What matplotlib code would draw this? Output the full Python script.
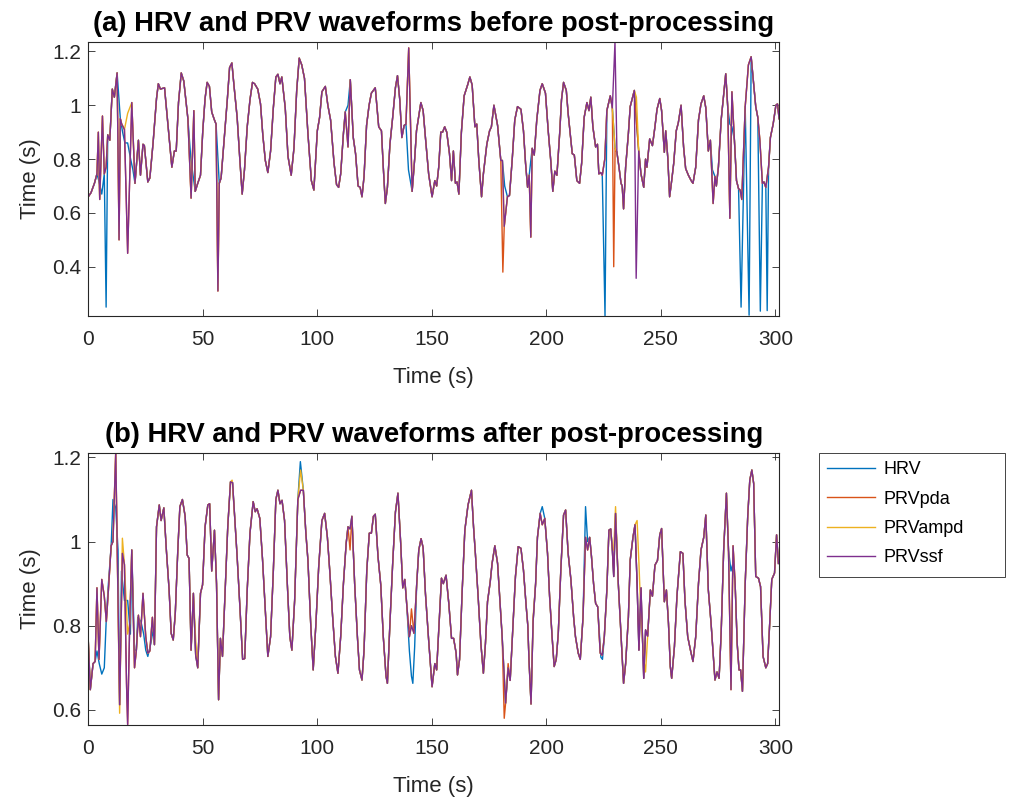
import matplotlib
matplotlib.use("Agg")
import matplotlib.pyplot as plt
import matplotlib.patches as patches
from matplotlib.ticker import FuncFormatter

plt.rcParams['font.family'] = ['Liberation Sans', 'DejaVu Sans']

# MATLAB default line colours
colors = ['#0072BD', '#D95319', '#EDB120', '#7E2F8E']
names = ['HRV', 'PRVpda', 'PRVampd', 'PRVssf']

# ---- (a) before post-processing: shared waveform ----
t_a = [0.0, 1.2, 2.7, 3.8, 4.6, 5.9, 7.0, 7.8, 8.5, 9.4, 10.5, 11.4, 12.6, 14.0, 15.0, 16.0, 17.2, 18.5, 19.5, 20.4,
       21.9, 22.8, 23.9, 24.5, 26.0, 26.9, 28.3, 29.8, 30.6, 31.5, 33.3, 35.0, 36.5, 37.6, 38.4, 39.4, 40.6, 41.7, 43.5, 44.8,
       46.7, 47.8, 49.0, 50.0, 51.0, 51.9, 52.9, 53.9, 55.1, 55.8, 57.2, 58.0, 59.2, 60.7, 61.7, 62.7, 63.6, 65.0, 66.2, 67.2,
       68.2, 69.4, 70.6, 71.7, 72.6, 74.0, 75.2, 76.2, 77.3, 78.4, 79.6, 80.8, 81.9, 82.8, 83.7, 84.5, 86.0, 87.2, 88.6, 89.8,
       91.0, 92.1, 93.2, 94.4, 95.9, 97.4, 98.5, 100.0, 101.0, 102.0, 103.5, 104.6, 105.8, 107.3, 108.4, 109.3, 110.2, 111.4, 112.2, 113.4,
       114.4, 115.7, 116.7, 117.8, 118.7, 119.5, 120.4, 121.5, 122.6, 123.6, 125.3, 126.8, 128.0, 128.8, 129.7, 130.6, 131.7, 132.9, 134.1, 135.0,
       136.0, 136.9, 137.9, 138.7, 139.8, 141.4, 142.5, 143.3, 145.2, 146.2, 147.2, 148.6, 150.1, 151.3, 152.1, 153.0, 153.9, 154.7, 155.6, 156.5,
       157.7, 158.6, 159.4, 160.3, 161.0, 161.8, 162.9, 164.1, 165.6, 166.6, 167.6, 168.8, 169.6, 170.5, 171.7, 172.5, 174.0, 175.2, 176.0, 177.1,
       178.7, 180.1, 180.8, 181.8, 183.0, 183.9, 185.1, 186.2, 187.4, 188.9, 190.0, 190.9, 191.8, 192.5, 193.8, 194.7, 195.8, 197.2, 198.2, 199.6,
       200.8, 202.0, 202.8, 203.7, 204.6, 205.8, 206.6, 207.5, 208.7, 209.5, 210.4, 211.3, 212.2, 213.3, 214.5, 215.4, 216.5, 217.7, 218.6, 219.4,
       220.3, 221.5, 222.3, 222.9, 223.7, 224.4, 225.5, 226.4, 227.9, 228.8, 230.0, 230.8, 231.7, 232.6, 233.1, 233.7, 234.6, 235.8, 236.6, 237.5,
       238.4, 239.2, 240.3, 241.3, 242.5, 243.3, 243.9, 245.1, 246.3, 247.4, 248.3, 249.5, 250.3, 251.5, 252.1, 253.0, 253.8, 254.7, 255.6, 256.7,
       257.6, 258.8, 259.9, 260.8, 262.0, 263.2, 264.0, 265.2, 266.4, 267.5, 268.7, 269.6, 270.7, 271.6, 272.5, 273.6, 274.2, 275.1, 276.3, 277.4,
       278.3, 279.2, 280.1, 281.0, 282.1, 283.0, 283.9, 284.6, 285.3, 286.8, 288.2, 289.4, 290.5, 291.4, 292.3, 293.2, 294.3, 295.0, 295.8, 297.0,
       297.8, 299.0, 300.2, 300.9, 301.6]
v_a = [0.66, 0.675, 0.71, 0.745, 0.72, 0.67, 0.745, 0.77, 0.89, 0.87, 1.06, 1.03, 1.12, 0.95, 0.90, 0.86, 0.86, 0.80, 0.76, 0.71,
       0.87, 0.74, 0.855, 0.85, 0.715, 0.73, 0.86, 1.025, 1.08, 1.06, 1.065, 0.91, 0.77, 0.83, 0.83, 1.01, 1.12, 1.09, 0.95, 0.80,
       0.68, 0.71, 0.74, 0.905, 1.025, 1.085, 1.07, 0.975, 0.945, 0.93, 0.71, 0.73, 0.86, 1.02, 1.14, 1.157, 1.075, 0.955, 0.795, 0.67,
       0.76, 0.92, 1.02, 1.085, 1.08, 1.06, 1.005, 0.89, 0.795, 0.75, 0.83, 0.99, 1.105, 1.115, 1.08, 1.105, 0.99, 0.81, 0.74, 0.84,
       1.055, 1.175, 1.15, 1.10, 0.895, 0.72, 0.685, 0.905, 0.955, 1.05, 1.07, 1.0, 0.945, 0.785, 0.705, 0.695, 0.745, 0.895, 0.975, 1.0,
       1.095, 0.88, 0.82, 0.70, 0.695, 0.66, 0.735, 0.925, 1.0, 1.045, 1.065, 0.92, 0.905, 0.77, 0.635, 0.695, 0.855, 0.955, 1.065, 1.11,
       1.02, 0.88, 0.925, 0.93, 0.76, 0.68, 0.80, 0.905, 1.01, 0.98, 0.88, 0.745, 0.66, 0.72, 0.70, 0.77, 0.90, 0.90, 0.92, 0.90,
       0.82, 0.72, 0.83, 0.71, 0.715, 0.67, 0.90, 1.035, 1.075, 1.105, 1.075, 0.92, 0.93, 0.795, 0.66, 0.745, 0.855, 0.905, 0.92, 1.0,
       0.925, 0.795, 0.795, 0.70, 0.66, 0.665, 0.80, 0.945, 0.995, 0.985, 0.905, 0.785, 0.695, 0.74, 0.84, 0.815, 0.945, 1.055, 1.08, 1.045,
       0.905, 0.785, 0.68, 0.755, 0.74, 0.895, 1.02, 1.085, 1.055, 0.97, 0.895, 0.82, 0.815, 0.72, 0.71, 0.785, 0.955, 1.01, 0.98, 1.03,
       0.92, 0.845, 0.855, 0.745, 0.75, 0.74, 0.80, 0.98, 1.035, 0.99, 0.84, 0.825, 0.77, 0.71, 0.70, 0.615, 0.77, 0.895, 0.995, 1.025,
       1.055, 0.95, 0.83, 0.745, 0.695, 0.80, 0.77, 0.875, 0.85, 0.92, 0.985, 1.025, 0.98, 0.825, 0.905, 0.805, 0.66, 0.72, 0.785, 0.905,
       0.935, 1.0, 0.845, 0.765, 0.74, 0.72, 0.71, 0.77, 0.945, 1.005, 1.035, 0.99, 0.83, 0.87, 0.76, 0.735, 0.70, 0.77, 0.945, 1.04,
       1.117, 0.99, 0.93, 0.92, 0.87, 0.72, 0.69, 0.685, 0.65, 0.995, 1.15, 1.18, 1.08, 0.995, 0.955, 0.87, 0.71, 0.715, 0.695, 0.77,
       0.88, 0.93, 1.0, 1.005, 0.95]

# artefacts in (a): (time, value) points that differ from the shared waveform
prv_common_a = [(4.4, 0.90), (5.0, 0.65), (6.2, 0.96), (13.45, 0.50), (14.6, 0.93), (15.8, 0.91), (17.2, 0.45),
                (19.0, 1.01), (44.9, 0.655), (46.1, 0.98), (56.6, 0.31), (113.4, 0.845), (139.9, 1.213),
                (181.6, 0.55), (193.2, 0.51), (272.8, 0.635), (280.1, 0.58), (281.0, 1.05)]
hrv_a = [(7.8, 0.25), (225.6, 0.217), (285.0, 0.25), (288.5, 0.22), (293.4, 0.235), (296.4, 0.237)]
pda_a = [(181.0, 0.38), (229.4, 0.40)]
ampd_a = [(17.2, 0.97), (239.3, 1.03)]
ssf_a = [(229.95, 1.235), (239.2, 0.357)]

# ---- (b) after post-processing ----
t_b = [0.0, 0.9, 2.1, 3.0, 3.8, 4.7, 5.9, 7.0, 7.9, 8.8, 10.0, 10.8, 12.0, 13.7, 14.9, 15.8, 16.7, 17.2, 18.1, 19.0,
       20.2, 21.0, 21.9, 22.8, 23.9, 25.1, 26.0, 26.9, 28.0, 28.9, 29.8, 31.0, 31.8, 33.0, 34.1, 35.3, 36.2, 37.1, 38.0, 39.1,
       40.0, 41.1, 42.3, 43.2, 44.0, 44.9, 45.9, 46.9, 47.8, 49.0, 49.9, 51.0, 52.2, 53.0, 53.9, 55.1, 56.0, 56.9, 57.7, 58.6,
       59.8, 60.9, 62.1, 63.0, 63.9, 65.0, 66.2, 67.4, 68.3, 69.4, 70.6, 72.0, 72.9, 73.7, 74.9, 76.1, 77.3, 78.4, 79.6, 80.8,
       81.9, 82.8, 83.7, 84.6, 85.7, 86.9, 88.0, 88.9, 90.1, 91.5, 92.7, 93.9, 95.0, 95.9, 97.1, 98.2, 99.4, 100.6, 102.0, 103.2,
       104.4, 105.5, 106.7, 107.9, 109.0, 110.2, 111.4, 112.6, 113.4, 114.3, 115.1, 116.3, 117.5, 118.4, 119.5, 120.4, 121.6, 122.7, 123.6, 124.5,
       125.3, 126.5, 127.7, 128.8, 130.0, 130.6, 131.7, 132.9, 134.1, 135.2, 136.4, 137.3, 138.2, 139.0, 140.2, 141.1, 142.2, 143.4, 144.3, 145.3,
       146.2, 147.2, 148.6, 150.1, 151.3, 152.1, 153.3, 154.2, 155.0, 156.2, 157.4, 158.6, 159.5, 160.6, 161.2, 162.1, 163.2, 164.4, 165.8, 167.3,
       168.2, 169.0, 170.2, 171.4, 172.5, 173.4, 174.3, 175.5, 176.3, 177.5, 178.7, 179.8, 180.7, 182.2, 183.3, 184.2, 185.4, 186.5, 187.7, 188.9,
       190.0, 191.2, 191.9, 192.4, 193.3, 194.2, 195.3, 196.1, 197.3, 198.2, 199.3, 200.5, 201.4, 202.5, 203.4, 204.3, 205.2, 206.3, 207.5, 208.4,
       209.5, 210.7, 211.9, 212.7, 213.9, 214.8, 216.0, 217.1, 218.0, 218.9, 219.7, 220.6, 221.5, 222.4, 223.5, 224.4, 225.3, 226.4, 227.3, 228.1,
       228.8, 229.4, 230.2, 231.4, 232.6, 233.7, 234.6, 235.8, 236.6, 237.8, 238.7, 239.6, 240.4, 241.3, 242.5, 243.3, 244.2, 245.4, 246.3, 247.4,
       248.5, 249.5, 250.3, 251.5, 252.4, 253.3, 254.1, 254.7, 255.9, 257.0, 258.5, 259.6, 260.5, 261.7, 262.9, 264.0, 265.2, 266.4, 267.5, 268.7,
       269.6, 270.7, 271.9, 272.8, 273.6, 274.5, 275.4, 276.3, 277.4, 278.6, 279.5, 280.6, 281.5, 282.4, 283.3, 284.1, 284.8, 285.6, 286.8, 287.9,
       288.8, 289.7, 290.5, 291.4, 292.6, 293.5, 294.6, 295.8, 296.6, 297.5, 298.4, 299.6, 300.5, 301.3]
v_b = [0.766, 0.648, 0.71, 0.715, 0.89, 0.72, 0.91, 0.87, 0.81, 0.885, 0.99, 1.0, 1.213, 0.612, 0.972, 0.945, 0.663, 0.565, 0.806, 0.98,
       0.70, 0.742, 0.825, 0.774, 0.877, 0.774, 0.735, 0.74, 0.82, 0.755, 1.035, 1.087, 1.05, 1.08, 0.98, 0.885, 0.782, 0.766, 0.83, 0.98,
       1.083, 1.10, 1.06, 0.968, 0.96, 0.742, 0.877, 0.73, 0.70, 0.877, 0.897, 1.035, 1.087, 1.09, 0.93, 1.027, 0.90, 0.624, 0.77, 0.727,
       0.885, 1.035, 1.142, 1.14, 1.06, 0.964, 0.845, 0.72, 0.722, 0.885, 1.02, 1.095, 1.071, 1.078, 1.055, 0.956, 0.837, 0.727, 0.774, 0.93,
       1.10, 1.122, 1.09, 1.098, 1.05, 0.90, 0.774, 0.742, 0.86, 1.10, 1.122, 1.122, 1.02, 0.956, 0.806, 0.695, 0.806, 0.94, 1.05, 1.067,
       1.01, 0.925, 0.82, 0.727, 0.687, 0.774, 0.90, 0.996, 1.035, 1.03, 1.06, 0.90, 0.774, 0.695, 0.671, 0.742, 0.932, 1.02, 1.02, 1.06,
       1.065, 0.964, 0.897, 0.774, 0.68, 0.663, 0.806, 0.948, 1.07, 1.115, 0.996, 0.89, 0.91, 0.853, 0.774, 0.80, 0.782, 0.90, 0.98, 1.007,
       0.985, 0.877, 0.766, 0.655, 0.71, 0.695, 0.82, 0.913, 0.90, 0.92, 0.853, 0.77, 0.77, 0.735, 0.683, 0.72, 0.877, 1.027, 1.087, 1.122,
       1.035, 0.972, 0.87, 0.758, 0.687, 0.758, 0.857, 0.905, 0.948, 0.99, 0.948, 0.853, 0.774, 0.616, 0.70, 0.67, 0.80, 0.917, 0.988, 0.984,
       0.932, 0.845, 0.80, 0.72, 0.614, 0.81, 0.90, 1.01, 1.067, 1.04, 1.055, 0.972, 0.87, 0.774, 0.703, 0.72, 0.782, 0.932, 1.063, 1.075,
       0.972, 0.91, 0.82, 0.774, 0.735, 0.72, 0.82, 1.01, 0.98, 1.01, 0.964, 0.90, 0.853, 0.845, 0.735, 0.73, 0.774, 0.885, 1.027, 1.03,
       0.98, 0.917, 1.067, 0.90, 0.774, 0.663, 0.71, 0.82, 0.956, 1.01, 1.04, 0.90, 0.742, 0.89, 0.675, 0.79, 0.775, 0.885, 0.87, 0.944,
       0.955, 1.016, 1.031, 0.857, 0.885, 0.806, 0.703, 0.675, 0.75, 0.87, 0.976, 0.972, 0.86, 0.774, 0.742, 0.715, 0.774, 0.90, 0.98, 1.01,
       1.063, 0.885, 0.806, 0.735, 0.671, 0.69, 0.675, 0.782, 0.98, 1.115, 0.98, 0.648, 0.99, 0.90, 0.758, 0.695, 0.695, 0.644, 0.90, 1.06,
       1.146, 1.17, 1.138, 0.917, 0.913, 0.893, 0.727, 0.70, 0.71, 0.806, 0.91, 0.925, 1.016, 0.948]

hrv_b = [(3.8, 0.74), (4.8, 0.71), (5.9, 0.685), (7.0, 0.70), (7.9, 0.82), (8.8, 0.90), (10.0, 0.99), (10.8, 1.10),
         (12.0, 1.08), (13.0, 0.98), (14.5, 0.93), (15.8, 0.86), (17.2, 0.86), (18.4, 0.78), (20.2, 0.742), (21.6, 0.82),
         (23.0, 0.81), (24.2, 0.78), (25.1, 0.742), (26.0, 0.727), (27.4, 0.76), (28.3, 0.79), (92.6, 1.19),
         (140.2, 0.74), (141.1, 0.68), (141.7, 0.663), (142.5, 0.75), (198.2, 1.083), (217.1, 1.083), (218.0, 1.0),
         (223.8, 0.725), (224.5, 0.72), (280.6, 0.93), (281.5, 0.95)]
pda_b = [(114.3, 0.98), (141.1, 0.84), (181.6, 0.58), (183.3, 0.71)]
ampd_b = [(13.7, 0.592), (14.9, 1.008), (17.2, 0.78), (46.9, 0.766), (62.8, 1.146), (92.7, 1.17), (194.2, 0.82),
          (229.4, 0.98), (230.2, 1.083), (239.6, 1.05), (240.4, 0.95), (241.3, 0.82), (242.5, 0.72), (243.3, 0.69)]
ssf_b = []

assert len(t_a) == len(v_a) and len(t_b) == len(v_b)


def with_points(t, v, pts, win=0.5):
    # replace the shared waveform around each listed point by that point
    keep = [(a, b) for a, b in zip(t, v) if all(abs(a - p) > win for p, _ in pts)]
    out = sorted(keep + list(pts))
    return [a for a, _ in out], [b for _, b in out]


def build(t, v, common, own):
    tt, vv = with_points(t, v, common)
    return with_points(tt, vv, own)


series_a = [with_points(t_a, v_a, hrv_a),
            build(t_a, v_a, prv_common_a, pda_a),
            build(t_a, v_a, prv_common_a, ampd_a),
            build(t_a, v_a, prv_common_a, ssf_a)]
series_b = [with_points(t_b, v_b, hrv_b),
            with_points(t_b, v_b, pda_b),
            with_points(t_b, v_b, ampd_b),
            with_points(t_b, v_b, ssf_b)]

W, H = 1025, 800
fig = plt.figure(figsize=(W / 100, H / 100), dpi=100)
ax1 = fig.add_axes([0.0861, 0.605, 0.674, 0.3425])
ax2 = fig.add_axes([0.0861, 0.094, 0.674, 0.340])

fmt = FuncFormatter(lambda x, pos: '%g' % round(x, 3))
axis_col = '#262626'


def style(ax, ylim, yticks, title):
    ax.set_xlim(0, 301.6)
    ax.set_ylim(*ylim)
    ax.set_xticks([0, 50, 100, 150, 200, 250, 300])
    ax.set_yticks(yticks)
    ax.yaxis.set_major_formatter(fmt)
    ax.tick_params(direction='in', length=5, width=0.6, top=True, right=True,
                   labelsize=15, colors=axis_col)
    ax.tick_params(axis='x', pad=10)
    ax.tick_params(axis='y', pad=5)
    for s in ax.spines.values():
        s.set_linewidth(0.8)
        s.set_color(axis_col)
    ax.set_xlabel('Time (s)', fontsize=16, color=axis_col, labelpad=13)
    ax.set_ylabel('Time (s)', fontsize=16, color=axis_col, labelpad=8)
    ax.set_title(title, fontsize=19.7, fontweight='bold', color='black', pad=8)


for (tt, vv), c, n in zip(series_a, colors, names):
    ax1.plot(tt, vv, color=c, lw=1.0, label=n)
for (tt, vv), c, n in zip(series_b, colors, names):
    ax2.plot(tt, vv, color=c, lw=1.0, label=n)

style(ax1, (0.217, 1.235), [0.4, 0.6, 0.8, 1.0, 1.2], '(a) HRV and PRV waveforms before post-processing')
style(ax2, (0.5645, 1.211), [0.6, 0.8, 1.0, 1.2], '(b) HRV and PRV waveforms after post-processing')

# legend box drawn separately so it can be wider than its entries, as in the original
box = patches.Rectangle((819 / W, 1 - 577 / H), 186 / W, 124 / H, transform=fig.transFigure,
                        facecolor='white', edgecolor=axis_col, linewidth=0.6)
fig.patches.append(box)
leg = fig.legend(handles=ax2.get_lines(), loc='upper left', bbox_to_anchor=(819 / W, 1 - 453 / H),
                 borderaxespad=0, fontsize=13, frameon=False, handlelength=2.65,
                 handletextpad=0.45, borderpad=0.45, labelspacing=0.69)

fig.savefig('out.png', dpi=100)
